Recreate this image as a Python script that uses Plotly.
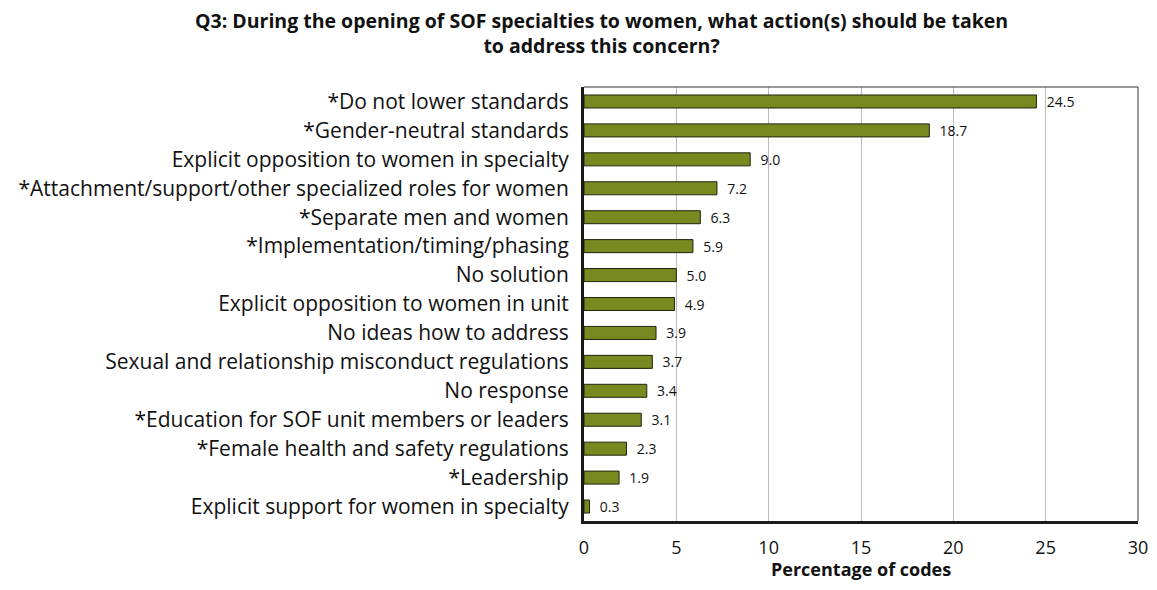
import plotly.graph_objects as go

categories = [
    "*Do not lower standards",
    "*Gender-neutral standards",
    "Explicit opposition to women in specialty",
    "*Attachment/support/other specialized roles for women",
    "*Separate men and women",
    "*Implementation/timing/phasing",
    "No solution",
    "Explicit opposition to women in unit",
    "No ideas how to address",
    "Sexual and relationship misconduct regulations",
    "No response",
    "*Education for SOF unit members or leaders",
    "*Female health and safety regulations",
    "*Leadership",
    "Explicit support for women in specialty",
]
values = [24.5, 18.7, 9.0, 7.2, 6.3, 5.9, 5.0, 4.9, 3.9, 3.7, 3.4, 3.1, 2.3, 1.9, 0.3]
x_ticks = [0, 5, 10, 15, 20, 25, 30]

title_text = ("<b>Q3: During the opening of SOF specialties to women, what action(s) should be taken"
              "<br>to address this concern?</b>")
x_title = "<b>Percentage of codes</b>"

FONT = "Open Sans"

fig = go.Figure(
    go.Bar(
        x=values,
        y=categories,
        orientation="h",
        width=0.45,
        marker=dict(color="#78891f", line=dict(color="#1e2410", width=1)),
        text=[f"  {v:.1f}" for v in values],
        textposition="outside",
        constraintext="none",
        textfont=dict(size=14, color="#111111", family=FONT),
        cliponaxis=False,
    )
)

fig.update_layout(
    width=1141,
    height=574,
    margin=dict(l=576, r=11, t=79, b=61, autoexpand=False),
    paper_bgcolor="white",
    plot_bgcolor="white",
    showlegend=False,
    font=dict(family=FONT, color="#111111"),
    xaxis=dict(
        range=[0, 30],
        tickvals=x_ticks,
        ticks="",
        showgrid=True,
        gridcolor="#bcbcbc",
        gridwidth=1,
        showline=True,
        linecolor="#1a1a1a",
        linewidth=3,
        zeroline=False,
        automargin=False,
        tickfont=dict(size=18, family=FONT),
        ticklabelstandoff=8,
        ticklabeloverflow="allow",
    ),
    yaxis=dict(
        categoryorder="array",
        categoryarray=categories[::-1],
        showline=True,
        linecolor="#1a1a1a",
        linewidth=3,
        ticks="",
        automargin=False,
        tickfont=dict(size=21, family=FONT),
        ticklabelstandoff=8,
        showgrid=False,
        zeroline=False,
    ),
    shapes=[
        dict(type="line", xref="paper", yref="paper", x0=0, x1=1, y0=1, y1=1,
             line=dict(color="#333333", width=1)),
        dict(type="line", xref="paper", yref="paper", x0=1, x1=1, y0=0, y1=1,
             line=dict(color="#333333", width=1)),
    ],
    annotations=[
        dict(text=title_text, xref="paper", yref="paper", x=0.032, y=1.124,
             xanchor="center", yanchor="middle", showarrow=False, align="center",
             font=dict(size=19.5, family=FONT, color="#111111")),
        dict(text=x_title, xref="paper", yref="paper", x=0.5, y=-0.111,
             xanchor="center", yanchor="middle", showarrow=False,
             font=dict(size=18, family=FONT, color="#111111")),
    ],
)

fig.write_html("out.html")
